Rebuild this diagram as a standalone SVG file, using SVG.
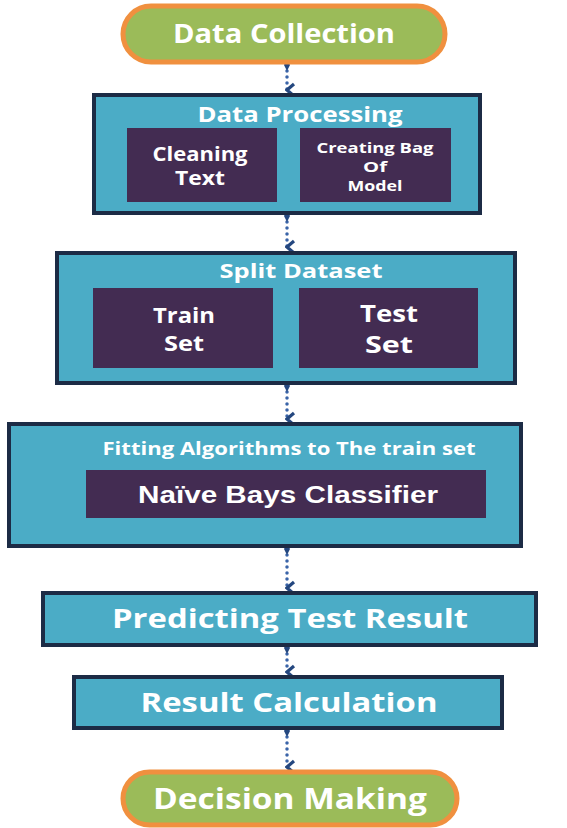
<svg xmlns="http://www.w3.org/2000/svg" width="567" height="828" viewBox="0 0 567 828">
<defs>
<style>
.term{fill:#9BBB59;stroke:#F0903F;stroke-width:5}
.box{fill:#4BACC6;stroke:#1C2B45;stroke-width:4}
.inner{fill:#432C52}
.t{font-family:"Open Sans","DejaVu Sans",sans-serif;font-weight:bold;fill:#fff;text-anchor:middle}
.a{font-family:"Liberation Sans",Arial,sans-serif;font-weight:bold;fill:#fff;text-anchor:middle}
.c{stroke:#3A64A8;stroke-width:3.5;stroke-dasharray:0 6;stroke-linecap:round;fill:none}
</style>
<marker id="v" markerWidth="16" markerHeight="11" refX="8" refY="9" orient="auto" markerUnits="userSpaceOnUse" viewBox="0 0 16 11">
<path d="M2,2 L8,9 L14,2" fill="none" stroke="#24477F" stroke-width="3.2"/>
</marker>
<marker id="d" markerWidth="14" markerHeight="8" refX="7" refY="4" orient="auto" markerUnits="userSpaceOnUse" viewBox="0 0 14 8">
<path d="M7,1 L13,4 L7,7 L1,4 Z" fill="#24477F"/>
</marker>
</defs>
<rect width="567" height="828" fill="#fff"/>
<g id="connectors">
<path class="c" d="M287,65 V90" marker-start="url(#d)" marker-end="url(#v)"/>
<path class="c" d="M287,216 V247" marker-start="url(#d)" marker-end="url(#v)"/>
<path class="c" d="M287,386 V419" marker-start="url(#d)" marker-end="url(#v)"/>
<path class="c" d="M287,549 V588" marker-start="url(#d)" marker-end="url(#v)"/>
<path class="c" d="M287,648 V672" marker-start="url(#d)" marker-end="url(#v)"/>
<path class="c" d="M287,731 V767" marker-start="url(#d)" marker-end="url(#v)"/>
</g>
<g id="data-collection">
<rect class="term" x="123" y="6" width="322" height="56" rx="28"/>
<text class="t" x="284" y="43" font-size="27" textLength="222" lengthAdjust="spacingAndGlyphs">Data Collection</text>
</g>
<g id="data-processing">
<rect class="box" x="94" y="95" width="386" height="118"/>
<text class="t" x="300" y="122" font-size="21" textLength="205" lengthAdjust="spacingAndGlyphs">Data Processing</text>
<g id="cleaning-text">
<rect class="inner" x="127" y="128" width="150" height="74"/>
<text class="t" x="200" y="161" font-size="19" textLength="95" lengthAdjust="spacingAndGlyphs">Cleaning</text>
<text class="t" x="200" y="185" font-size="19" textLength="50" lengthAdjust="spacingAndGlyphs">Text</text>
</g>
<g id="creating-bag">
<rect class="inner" x="300" y="128" width="151" height="74"/>
<text class="t" x="375" y="153" font-size="14" textLength="117" lengthAdjust="spacingAndGlyphs">Creating Bag</text>
<text class="t" x="375" y="172" font-size="14" textLength="24" lengthAdjust="spacingAndGlyphs">Of</text>
<text class="t" x="375" y="191" font-size="14" textLength="55" lengthAdjust="spacingAndGlyphs">Model</text>
</g>
</g>
<g id="split-dataset">
<rect class="box" x="57" y="253" width="458" height="130"/>
<text class="t" x="301" y="278" font-size="19" textLength="163" lengthAdjust="spacingAndGlyphs">Split Dataset</text>
<g id="train-set">
<rect class="inner" x="93" y="288" width="180" height="80"/>
<text class="t" x="184" y="323" font-size="21" textLength="62" lengthAdjust="spacingAndGlyphs">Train</text>
<text class="t" x="184" y="351" font-size="21" textLength="40" lengthAdjust="spacingAndGlyphs">Set</text>
</g>
<g id="test-set">
<rect class="inner" x="299" y="288" width="179" height="80"/>
<text class="t" x="389" y="322" font-size="23" textLength="58" lengthAdjust="spacingAndGlyphs">Test</text>
<text class="t" x="389" y="353" font-size="23" textLength="48" lengthAdjust="spacingAndGlyphs">Set</text>
</g>
</g>
<g id="fitting">
<rect class="box" x="9" y="424" width="512" height="122"/>
<text class="t" x="289" y="455" font-size="17" textLength="373" lengthAdjust="spacingAndGlyphs">Fitting Algorithms to The train set</text>
<g id="naive-bayes">
<rect class="inner" x="86" y="470" width="400" height="48"/>
<text class="a" x="288" y="503" font-size="23" textLength="300" lengthAdjust="spacingAndGlyphs">Naïve Bays Classifier</text>
</g>
</g>
<g id="predicting">
<rect class="box" x="43" y="593" width="493" height="52"/>
<text class="t" x="290" y="628" font-size="27" textLength="356" lengthAdjust="spacingAndGlyphs">Predicting Test Result</text>
</g>
<g id="result-calculation">
<rect class="box" x="74" y="677" width="428" height="51"/>
<text class="t" x="289" y="712" font-size="27" textLength="297" lengthAdjust="spacingAndGlyphs">Result Calculation</text>
</g>
<g id="decision-making">
<rect class="term" x="123" y="772" width="334" height="53" rx="26.5"/>
<text class="t" x="290" y="809" font-size="28" textLength="274" lengthAdjust="spacingAndGlyphs">Decision Making</text>
</g>
</svg>
